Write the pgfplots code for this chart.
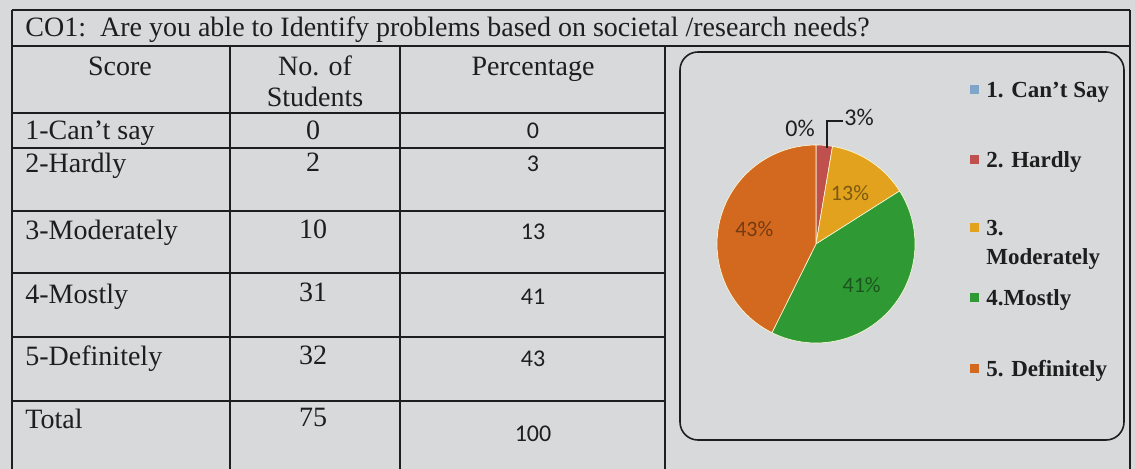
\documentclass[border=0pt]{standalone}
\usepackage{pgfplots}
\pgfplotsset{compat=1.18}
\usepackage{pgfplotstable}
\usepackage{fontspec}
\setmainfont{Liberation Serif}
\newfontfamily\calib{Carlito}
\definecolor{bg}{HTML}{D7D9DB}
\definecolor{ink}{HTML}{1E1E1E}
\definecolor{cA}{HTML}{7FA6C8}
\definecolor{cB}{HTML}{C0504D}
\definecolor{cC}{HTML}{E2A21E}
\definecolor{cD}{HTML}{2F9A34}
\definecolor{cE}{HTML}{D2691E}
\pgfplotstableread{
score count pct
1 0 0
2 2 3
3 10 13
4 31 41
5 32 43
}\datatable
\begin{document}%
\begin{tikzpicture}
\pgfplotstablegetelem{0}{count}\of\datatable\let\nA\pgfplotsretval
\pgfplotstablegetelem{1}{count}\of\datatable\let\nB\pgfplotsretval
\pgfplotstablegetelem{2}{count}\of\datatable\let\nC\pgfplotsretval
\pgfplotstablegetelem{3}{count}\of\datatable\let\nD\pgfplotsretval
\pgfplotstablegetelem{4}{count}\of\datatable\let\nE\pgfplotsretval
\pgfmathsetmacro\ntot{\nA+\nB+\nC+\nD+\nE}
\pgfmathsetmacro\aA{90}
\pgfmathsetmacro\aB{\aA-360*\nA/\ntot}
\pgfmathsetmacro\aC{\aB-360*\nB/\ntot}
\pgfmathsetmacro\aD{\aC-360*\nC/\ntot}
\pgfmathsetmacro\aE{\aD-360*\nD/\ntot}
\pgfmathsetmacro\aF{\aE-360*\nE/\ntot}
\pgfmathsetmacro\mC{(\aC+\aD)/2}
\pgfmathsetmacro\mD{(\aD+\aE)/2}
\pgfmathsetmacro\mE{(\aE+\aF)/2}
\begin{scope}[x=0.5pt,y=-0.5pt]
\fill[bg] (0,0) rectangle (1135,469);
% table grid
\draw[ink,line width=1pt] (12,10) -- (1130,10);
\draw[ink,line width=1pt] (12,46) -- (1130,46);
\draw[ink,line width=1pt] (12,10) -- (12,469);
\draw[ink,line width=1pt] (1130,10) -- (1130,469);
\draw[ink,line width=1pt] (230,46) -- (230,469);
\draw[ink,line width=1pt] (400,46) -- (400,469);
\draw[ink,line width=1pt] (665,46) -- (665,469);
\foreach \yy in {113,148,211,273,337,401} \draw[ink,line width=1pt] (12,\yy) -- (665,\yy);
% pie box
\draw[ink,line width=0.8pt,rounded corners=9pt] (680,52) rectangle (1124,440);
% title and header
\begin{scope}[every node/.style={font=\fontsize{14}{16}\selectfont,text=ink,inner sep=0pt}]
\node[anchor=base west] at (25,37) {CO1:\ \ Are you able to Identify problems based on societal /research needs?};
\node[anchor=base] at (120,76) {Score};
\node[anchor=base] at (315,76) {No. of};
\node[anchor=base] at (315,107) {Students};
\node[anchor=base] at (533,76) {Percentage};
\node[anchor=base west] at (25,140) {1-Can't say};
\node[anchor=base west] at (25,173) {2-Hardly};
\node[anchor=base west] at (25,240) {3-Moderately};
\node[anchor=base west] at (25,304) {4-Mostly};
\node[anchor=base west] at (25,366) {5-Definitely};
\node[anchor=base west] at (25,429) {Total};
\node[anchor=base] at (313,140) {0};
\node[anchor=base] at (313,172) {2};
\node[anchor=base] at (313,239) {10};
\node[anchor=base] at (313,302) {31};
\node[anchor=base] at (313,365) {32};
\node[anchor=base] at (313,427) {75};
\end{scope}
\begin{scope}[every node/.style={font=\calib\fontsize{12}{14}\selectfont,text=ink,inner sep=0pt}]
\node[anchor=base] at (533,139) {0};
\node[anchor=base] at (533,172) {3};
\node[anchor=base] at (533,240) {13};
\node[anchor=base] at (533,305) {41};
\node[anchor=base] at (533,367) {43};
\node[anchor=base] at (533,442) {100};
\end{scope}
% legend
\begin{scope}[every node/.style={font=\fontsize{11.5}{13}\selectfont\bfseries,text=ink,inner sep=0pt,anchor=base west}]
\fill[cA] (970,85) rectangle (979,94); \node at (986,98) {1. Can't Say};
\fill[cB] (970,155) rectangle (979,164); \node at (986,168) {2. Hardly};
\fill[cC] (970,223) rectangle (979,232); \node at (986,236) {3.};
\node at (986,265) {Moderately};
\fill[cD] (970,293) rectangle (979,302); \node at (986,306) {4.Mostly};
\fill[cE] (970,364) rectangle (979,373); \node at (986,377) {5. Definitely};
\end{scope}
\end{scope}
\begin{axis}[at={(408pt,-122pt)},anchor=center,scale only axis,width=99pt,height=99pt,
  xmin=-1,xmax=1,ymin=-1,ymax=1,hide axis,clip=false]
\addplot[fill=cB,draw=white!85!yellow,line width=0.3pt,domain=\aC:\aB,samples=10] ({cos(x)},{sin(x)}) -- (axis cs:0,0) -- cycle;
\addplot[fill=cC,draw=white!85!yellow,line width=0.3pt,domain=\aD:\aC,samples=30] ({cos(x)},{sin(x)}) -- (axis cs:0,0) -- cycle;
\addplot[fill=cD,draw=white!85!yellow,line width=0.3pt,domain=\aE:\aD,samples=60] ({cos(x)},{sin(x)}) -- (axis cs:0,0) -- cycle;
\addplot[fill=cE,draw=white!85!yellow,line width=0.3pt,domain=\aF:\aE,samples=60] ({cos(x)},{sin(x)}) -- (axis cs:0,0) -- cycle;
\node[font=\calib\fontsize{11}{12}\selectfont,text=cC!55!black] at (axis cs:{0.62*cos(\mC)},{0.62*sin(\mC)}) {13\%};
\node[font=\calib\fontsize{11}{12}\selectfont,text=cD!55!black] at (axis cs:{0.62*cos(\mD)},{0.62*sin(\mD)}) {41\%};
\node[font=\calib\fontsize{11}{12}\selectfont,text=cE!55!black] at (axis cs:{0.64*cos(\mE)},{0.64*sin(\mE)}) {43\%};
\end{axis}
\begin{scope}[x=0.5pt,y=-0.5pt]
\draw[ink,line width=0.8pt] (843,121) -- (827,121) -- (827,148);
\node[font=\calib\fontsize{12}{14}\selectfont,text=ink,inner sep=0pt,anchor=base] at (800,137) {0\%};
\node[font=\calib\fontsize{12}{14}\selectfont,text=ink,inner sep=0pt,anchor=base west] at (844,126) {3\%};
\end{scope}
\pgfresetboundingbox
\path[use as bounding box] (0pt,0pt) rectangle (567.5pt,-234.5pt);
\end{tikzpicture}%
\end{document}
